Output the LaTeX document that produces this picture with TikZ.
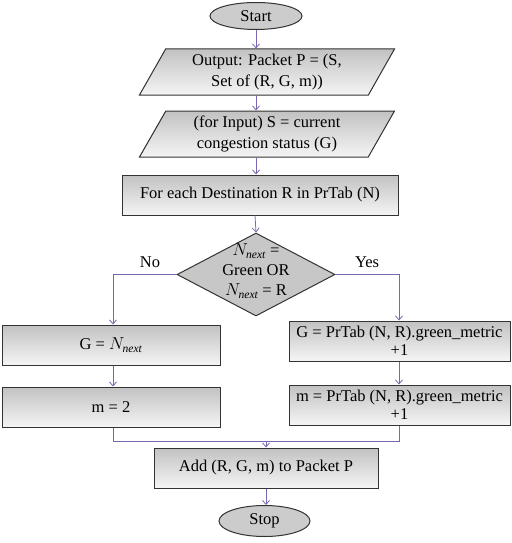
\documentclass[tikz,border=0pt]{standalone}
\usepackage{fontspec}
\setmainfont{Liberation Serif}
\usetikzlibrary{shapes.geometric,arrows.meta}
\definecolor{conn}{HTML}{7A66AE}
\definecolor{edge}{HTML}{333333}
\tikzset{
  x=1pt,y=-1pt,
  every node/.style={font=\fontsize{16.5}{21}\selectfont},
  shadebox/.style={draw=edge,line width=1pt,top color=black!24,bottom color=black!4,inner sep=0pt},
  procbox/.style={shadebox,rectangle,minimum height=40,align=center},
  termbox/.style={draw=edge,line width=1pt,ellipse,fill=black!20,inner sep=0pt},
  iobox/.style={shadebox,trapezium,trapezium left angle=54,trapezium right angle=126,
    trapezium stretches body,minimum width=255,minimum height=46,align=center},
  decbox/.style={draw=edge,line width=1pt,diamond,fill=black!22,inner sep=0pt,minimum width=158,minimum height=83},
  conn/.style={draw=conn,line width=0.8pt},
  arr/.style={conn,-{Straight Barb[length=4pt,width=7pt]}},
  lbl/.style={inner sep=0pt}
}
\begin{document}
\begin{tikzpicture}
\useasboundingbox (0,0) rectangle (511,543);
\node[termbox,minimum width=92,minimum height=27] (start) at (256,16) {Start};
\node[iobox] (out) at (267,72) {Output: Packet P = (S,\\Set of (R, G, m))};
\node[iobox] (inp) at (267,134) {(for Input) S = current\\congestion status (G)};
\node[procbox,minimum width=276] (each) at (260,195) {For each Destination R in PrTab (N)};
\node[decbox] (dec) at (256,274.5) {};
\node[lbl,align=center,font=\fontsize{16.5}{20}\selectfont] (dectext) at (256,271) {$N_{\mathit{next}}$ =\\Green OR\\$N_{\mathit{next}}$ = R};
\node[procbox,minimum width=218] (gl) at (111,345) {G = $N_{\mathit{next}}$};
\node[procbox,minimum width=218] (ml) at (111,407) {m = 2};
\node[procbox,minimum width=221,font=\fontsize{16.5}{18}\selectfont] (gr) at (399.5,341) {G = PrTab (N, R).green\_metric\\+1};
\node[procbox,minimum width=221,font=\fontsize{16.5}{18}\selectfont] (mr) at (399.5,405) {m = PrTab (N, R).green\_metric\\+1};
\node[procbox,minimum width=224] (add) at (266,468) {Add (R, G, m) to Packet P};
\node[termbox,minimum width=91,minimum height=31] (stop) at (264.5,521) {Stop};
\node[lbl] (no) at (150,262) {No};
\node[lbl] (yes) at (367,262) {Yes};
\coordinate (jl) at (113,441);
\coordinate (jr) at (399,441);
\coordinate (jm) at (266,441);
% connectors
\draw[arr] (start.south) -- (start.south |- out.north);
\draw[arr] (256,0 |- out.south) -- (256,0 |- inp.north);
\draw[arr] (256,0 |- inp.south) -- (256,0 |- each.north);
\draw[arr] (255,0 |- each.south) -- (dec.north);
\draw[arr] (dec.west) -| (jl |- gl.north);
\draw[arr] (dec.east) -| (jr |- gr.north);
\draw[arr] (jl |- gl.south) -- (jl |- ml.north);
\draw[arr] (jr |- gr.south) -- (jr |- mr.north);
\draw[conn] (jl |- ml.south) -- (jl) -- (jr) -- (jr |- mr.south);
\draw[arr] (jm) -- (jm |- add.north);
\draw[arr] (jm |- add.south) -- (jm |- stop.north);
\end{tikzpicture}
\end{document}
